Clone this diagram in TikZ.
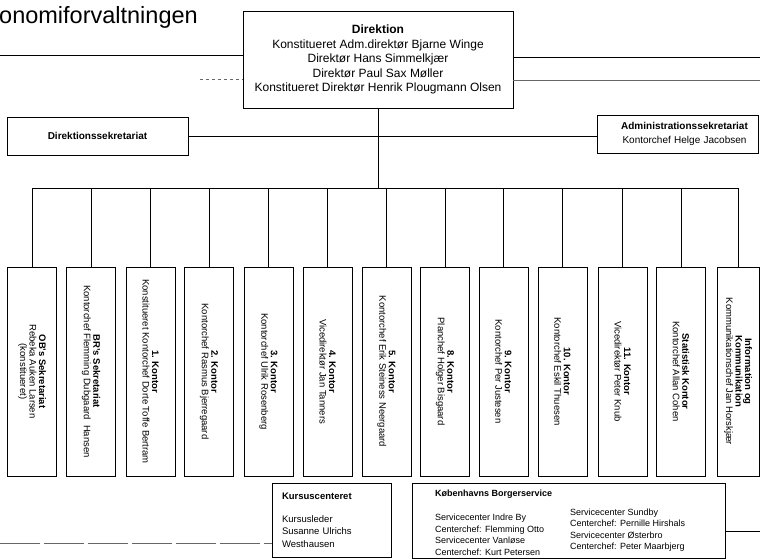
\documentclass[tikz,border=0pt]{standalone}
\usepackage{fontspec}
\setmainfont{Liberation Sans}

\tikzset{
  boks/.style={draw, line width=0.8pt, align=center},
  kontor/.style={draw, line width=0.8pt, rotate=-90, minimum width=209pt, minimum height=49pt, inner sep=1pt, align=center, font=\fontsize{9.5}{9.5}\selectfont},
  streg/.style={line width=0.8pt},
  svag/.style={line width=0.7pt, gray!80!black}
}

\begin{document}
\begin{tikzpicture}[x=1pt, y=-1pt]
  \useasboundingbox (0,0) rectangle (760,558);
  \node[anchor=base west, inner sep=0pt, font=\fontsize{23.5}{27}\selectfont] (titel) at (-1,23) {onomiforvaltningen};

  \node[boks, minimum width=270pt, minimum height=97pt, font=\fontsize{12}{14.5}\selectfont] (direktion) at (378,59.5) {\textbf{Direktion}\\Konstitueret Adm.direktør Bjarne Winge\\Direktør Hans Simmelkjær\\Direktør Paul Sax Møller\\Konstitueret Direktør Henrik Plougmann Olsen};
  \node[boks, minimum width=181pt, minimum height=38pt, font=\bfseries\fontsize{10}{12}\selectfont] (dirsek) at (97.5,136) {Direktionssekretariat};
  \node[boks, minimum width=161pt, minimum height=38pt, text width=145pt, font=\fontsize{10}{14}\selectfont] (admsek) at (677.5,134) {\hspace*{14pt}\textbf{Administrationssekretariat}\\\hspace*{14pt}Kontorchef Helge Jacobsen};

  % kontorerne staar paa hoejkant, toppen er .west
  \node[kontor] (k1) at (32,371.5) {\textbf{OB's Sekretariat}\\Rebeka Auken Larsen\\(konstitueret)};
  \node[kontor] (k2) at (91,371.5) {\textbf{BR's Sekretariat}\\Kontorchef Flemming Dubgaard\ \ Hansen};
  \node[kontor] (k3) at (150.5,371.5) {\textbf{1. Kontor}\\Konstitueret Kontorchef Dorte Toffe Bertram};
  \node[kontor] (k4) at (209,371.5) {\textbf{2. Kontor}\\Kontorchef Rasmus Bjerregaard};
  \node[kontor] (k5) at (268.5,371.5) {\textbf{3. Kontor}\\Kontorchef Ulrik Rosenberg};
  \node[kontor] (k6) at (327.5,371.5) {\textbf{4. Kontor}\\Vicedirektør Jan Tanners};
  \node[kontor] (k7) at (386.5,371.5) {\textbf{5. Kontor}\\Kontorchef Erik Steiness Neergaard};
  \node[kontor] (k8) at (445,371.5) {\textbf{8. Kontor}\\Planchef Holger Bisgaard};
  \node[kontor] (k9) at (503.5,371.5) {\textbf{9. Kontor}\\Kontorchef Per Justesen};
  \node[kontor] (k10) at (562.5,371.5) {\textbf{10. Kontor}\\Kontorchef Eskil Thuesen};
  \node[kontor] (k11) at (622.5,371.5) {\textbf{11. Kontor}\\Vicedirektør Peter Knub};
  \node[kontor] (k12) at (681,371.5) {\textbf{Statistisk Kontor}\\Kontorchef Allan Cohen};
  \node[kontor, minimum height=42pt] (k13) at (738,371.5) {\textbf{Information og}\\\textbf{Kommunikation}\\Kommunikationschef Jan Horskjær};

  \node[boks, minimum width=119pt, minimum height=74pt, text width=99pt, align=left, font=\fontsize{9.5}{12.5}\selectfont] (kursus) at (331.5,520) {\textbf{Kursuscenteret}\\[10.5pt]Kursusleder\\Susanne Ulrichs\\Westhausen};
  \node[boks, minimum width=313pt, minimum height=75pt] (borger) at (568.5,520.5) {};
  \node[anchor=west, inner sep=0pt, font=\bfseries\fontsize{9}{11}\selectfont] (borgertitel) at (435,494) {Københavns Borgerservice};
  \node[anchor=west, align=left, inner sep=0pt, font=\fontsize{9}{11.5}\selectfont] (borgervenstre) at (435,535) {Servicecenter Indre By\\Centerchef: Flemming Otto\\Servicecenter Vanløse\\Centerchef: Kurt Petersen};
  \node[anchor=west, align=left, inner sep=0pt, font=\fontsize{9}{11.5}\selectfont] (borgerhoejre) at (570,530) {Servicecenter Sundby\\Centerchef: Pernille Hirshals\\Servicecenter Østerbro\\Centerchef: Peter Maarbjerg};

  % forbindelser
  \coordinate (bus) at (0,188);
  \draw[streg] (direktion.south) -- (direktion.south |- bus);
  \draw[streg] (dirsek.east) -- (dirsek.east -| admsek.west);
  \draw[streg] (k1.west |- bus) -- (k13.west |- bus);
  \draw[streg] (k1.west) -- (k1.west |- bus);
  \draw[streg] (k2.west) -- (k2.west |- bus);
  \draw[streg] (k3.west) -- (k3.west |- bus);
  \draw[streg] (k4.west) -- (k4.west |- bus);
  \draw[streg] (k5.west) -- (k5.west |- bus);
  \draw[streg] (k6.west) -- (k6.west |- bus);
  \draw[streg] (k7.west) -- (k7.west |- bus);
  \draw[streg] (k8.west) -- (k8.west |- bus);
  \draw[streg] (k9.west) -- (k9.west |- bus);
  \draw[streg] (k10.west) -- (k10.west |- bus);
  \draw[streg] (k11.west) -- (k11.west |- bus);
  \draw[streg] (k12.west) -- (k12.west |- bus);
  \draw[streg] (k13.west) -- (k13.west |- bus);

  % streger ud til kanten
  \coordinate (venstre1) at (0,55);
  \coordinate (venstre2) at (200,79);
  \coordinate (hoejre1) at (760,57);
  \coordinate (hoejre2) at (760,80);
  \coordinate (bundvenstre) at (0,543);
  \coordinate (bundhoejre) at (760,531);
  \draw[streg] (venstre1) -- (venstre1 -| direktion.west);
  \draw[svag, dashed] (venstre2) -- (venstre2 -| direktion.west);
  \draw[streg] (direktion.east |- hoejre1) -- (hoejre1);
  \draw[svag] (direktion.east |- hoejre2) -- (hoejre2);
  \draw[svag, dash pattern=on 40pt off 4pt] (bundvenstre) -- (bundvenstre -| kursus.west);
  \draw[streg] (borger.east |- bundhoejre) -- (bundhoejre);
\end{tikzpicture}
\end{document}
